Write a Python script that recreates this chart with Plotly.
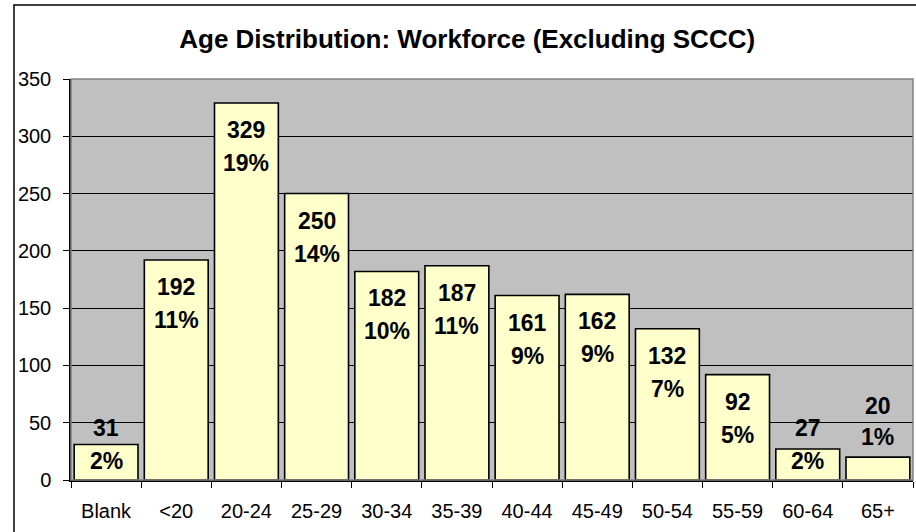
import plotly.graph_objects as go

# age bands and headcounts
age_bands = ['Blank', '<20', '20-24', '25-29', '30-34', '35-39',
             '40-44', '45-49', '50-54', '55-59', '60-64', '65+']
headcount = [31, 192, 329, 250, 182, 187, 161, 162, 132, 92, 27, 20]
y_ticks = [0, 50, 100, 150, 200, 250, 300, 350]

total = sum(headcount)
pct_labels = ['%d%%' % round(100.0 * v / total) for v in headcount]

FONT = 'Arial, Liberation Sans, sans-serif'

fig = go.Figure(go.Bar(
    x=age_bands,
    y=headcount,
    marker=dict(color='#FFFFCC', line=dict(color='black', width=1.6)),
    hoverinfo='x+y',
))

# two-line data labels (value / percent), Excel "inside end" style
for band, v, p in zip(age_bands, headcount, pct_labels):
    if v < 25:
        # too short: labels sit above the bar
        y, s1, s2 = v, 51, 20
    else:
        y, s1, s2 = max(v, 69), -27, -60
    fig.add_annotation(x=band, y=y, text='<b>%d</b>' % v, showarrow=False,
                       yanchor='middle', yshift=s1,
                       font=dict(family=FONT, size=23, color='black'))
    fig.add_annotation(x=band, y=y, text='<b>%s</b>' % p, showarrow=False,
                       yanchor='middle', yshift=s2,
                       font=dict(family=FONT, size=23, color='black'))

# outer chart border
fig.add_shape(type='rect', xref='paper', yref='paper',
              x0=-0.0677, x1=1.02, y0=-0.3, y1=1.1845,
              line=dict(color='black', width=1.5), layer='below')
# plot-area frame
fig.add_shape(type='rect', xref='paper', yref='paper',
              x0=0, x1=1, y0=0, y1=1,
              line=dict(color='#808080', width=1.5))

fig.update_layout(
    width=916, height=532,
    margin=dict(l=71, r=3, t=79, b=52),
    paper_bgcolor='white',
    plot_bgcolor='#C0C0C0',
    bargap=0.09,
    showlegend=False,
    font=dict(family=FONT, size=20, color='black'),
    title=dict(text='<b>Age Distribution: Workforce (Excluding SCCC)</b>',
               x=0.51, xanchor='center', y=0.927, yanchor='middle',
               font=dict(family=FONT, size=26, color='black')),
)
fig.update_xaxes(
    type='category', showgrid=False, ticks='outside', tickson='boundaries',
    ticklen=6, tickcolor='black', showline=True, linecolor='black', linewidth=1.5,
    ticklabelstandoff=12, tickfont=dict(size=20),
)
fig.update_yaxes(
    range=[0, 350], tickvals=y_ticks, showgrid=True, gridcolor='black', gridwidth=1,
    ticks='outside', ticklen=6, tickcolor='black', showline=True, linecolor='black',
    linewidth=1.5, zeroline=False, ticklabelstandoff=8, tickfont=dict(size=20),
)

fig.write_html('out.html', config={'displayModeBar': False},
               post_script="document.body.style.margin='0';")
